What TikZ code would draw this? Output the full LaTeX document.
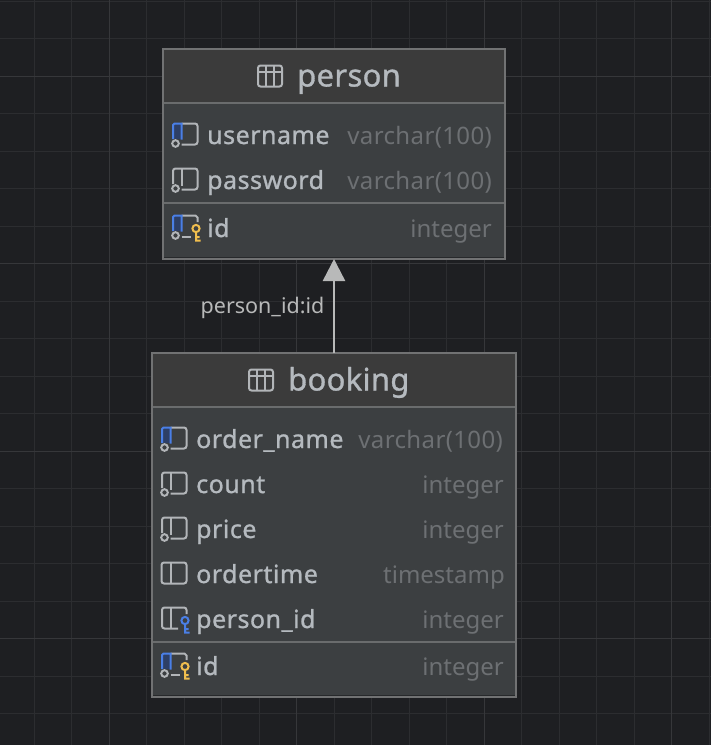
\documentclass[tikz,border=0pt]{standalone}
\usepackage{fontspec}
\usetikzlibrary{arrows.meta}
\setmainfont{Noto Sans}
\newfontfamily\medfont[FakeBold=1,LetterSpace=2]{Noto Sans}
\newfontfamily\titlefont[FakeBold=1,LetterSpace=1]{Noto Sans}
\newfontfamily\typefont{Noto Sans}
\newfontfamily\typewidefont[LetterSpace=1.5]{Noto Sans}
\definecolor{bgc}{HTML}{1E1F22}
\definecolor{gridminor}{HTML}{2C2D30}
\definecolor{gridmajor}{HTML}{36373A}
\definecolor{headc}{HTML}{3B3B3B}
\definecolor{bodyc}{HTML}{3C3F41}
\definecolor{borderc}{HTML}{717273}
\definecolor{sepc}{HTML}{6A6C6D}
\definecolor{namec}{HTML}{B5BABF}
\definecolor{typec}{HTML}{6D7073}
\definecolor{iconc}{HTML}{B2B5B8}
\definecolor{blueic}{HTML}{4A7FE6}
\definecolor{bluedk}{HTML}{2D3F66}
\definecolor{goldic}{HTML}{F0BE4E}
\definecolor{arrowc}{HTML}{B8B9B9}
\tikzset{
  x=1pt,y=-1pt,
  tablebox/.style={draw=borderc,line width=2pt,fill=bodyc,inner sep=0pt,outer sep=0pt,rectangle},
  colname/.style={anchor=base west,yshift=-9pt,inner sep=0pt,text=namec,font=\fontsize{25}{25}\medfont},
  coltype/.style={anchor=base east,yshift=-9pt,inner sep=0pt,text=typec,font=\fontsize{24}{24}\typefont},
  coltypewide/.style={coltype,font=\fontsize{24}{24}\typewidefont},
  tabletitle/.style={anchor=base west,yshift=-10.5pt,inner sep=0pt,text=namec,font=\fontsize{31}{31}\titlefont},
  edgelabel/.style={anchor=base,yshift=-7.5pt,inner sep=0pt,text=arrowc,font=\fontsize{21.5}{21.5}\selectfont},
  sepline/.style={sepc,line width=2pt},
  iconline/.style={iconc,line width=2pt},
  pics/tableicon/.style={code={
    \draw[iconline,rounded corners=2.5pt] (-12,-10.5) rectangle (12,10.5);
    \draw[iconline] (-12,-4.5) -- (12,-4.5) (-4,-10.5) -- (-4,10.5) (4,-10.5) -- (4,10.5);
  }},
  pics/plaincol/.style={code={
    \draw[iconline,rounded corners=2.5pt] (-12.5,-10.5) rectangle (12.5,10.5);
    \draw[iconline] (-3.5,-10.5) -- (-3.5,10.5);
  }},
  pics/nncol/.style={code={
    \draw[iconline,rounded corners=2.5pt] (-12,5) -- (-12,-10.5) -- (12.5,-10.5) -- (12.5,10.5) -- (-3.5,10.5);
    \draw[iconline] (-3.5,-10.5) -- (-3.5,7);
    \draw[iconline] (-9.5,9.5) circle (3.3);
  }},
  pics/bluecol/.style={code={
    \fill[bluedk] (-12,-10.5) rectangle (-3.5,5);
    \draw[iconline,rounded corners=2.5pt] (-3.5,-10.5) -- (12.5,-10.5) -- (12.5,10.5) -- (-3.5,10.5);
    \draw[blueic,line width=2pt] (-12,5) -- (-12,-9) -- (-10.5,-10.5) -- (-3.5,-10.5) -- (-3.5,5.5);
    \draw[iconline] (-9.5,9.5) circle (3.3);
  }},
  pics/pkcol/.style={code={
    \fill[bluedk] (-12,-10.5) rectangle (-3.5,5);
    \draw[iconline] (-3.5,-10.5) -- (10.5,-10.5) -- (12.5,-8.5) -- (12.5,-4);
    \draw[iconline] (-3.5,10.5) -- (6,10.5);
    \draw[blueic,line width=2pt] (-12,5) -- (-12,-9) -- (-10.5,-10.5) -- (-3.5,-10.5) -- (-3.5,5.5);
    \draw[iconline] (-9.5,9.5) circle (3.3);
    \draw[goldic,line width=2pt] (11,2.5) circle (3.6) (11,6) -- (11,14.5) -- (15.5,14.5) (11,11) -- (14.5,11);
  }},
  pics/fkcol/.style={code={
    \draw[iconline,rounded corners=2.5pt] (4,10.5) -- (-12,10.5) -- (-12,-10.5) -- (12.5,-10.5) -- (12.5,-4);
    \draw[iconline] (-3.5,-10.5) -- (-3.5,10.5);
    \draw[blueic,line width=2pt] (11,2.5) circle (3.6) (11,6) -- (11,14.5) -- (15.5,14.5) (11,11) -- (14.5,11);
  }},
}
\begin{document}
\begin{tikzpicture}
\useasboundingbox (0,0) rectangle (711,745);
\fill[bgc] (0,0) rectangle (711,745);
% grid
\foreach \i in {0,...,18} {
  \pgfmathsetmacro\gx{34+37.5*\i}
  \draw[gridminor,line width=1pt] (\gx,0) -- (\gx,745);
}
\foreach \i in {0,...,19} {
  \pgfmathsetmacro\gy{1+37.5*\i}
  \draw[gridminor,line width=1pt] (0,\gy) -- (711,\gy);
}
\foreach \i in {0,...,3} {
  \pgfmathsetmacro\gx{109+187.5*\i}
  \pgfmathsetmacro\gy{76+187.5*\i}
  \draw[gridmajor,line width=1pt] (\gx,0) -- (\gx,745);
  \draw[gridmajor,line width=1pt] (0,\gy) -- (711,\gy);
}
% person table
\node[tablebox,minimum width=342pt,minimum height=210pt] (person) at (334,154) {};
\fill[headc] (164,50) rectangle (504,102);
\draw[sepline] (164,103) -- (504,103);
\draw[sepline] (164,203) -- (504,203);
\draw[bgc!70!bodyc,line width=1pt] (164,257) -- (504,257);
\pic at (270,76) {tableicon};
\node[tabletitle] (ptitle) at (297,76) {person};
\pic at (185,134) {bluecol};
\node[colname] (pusername) at (207,135) {username};
\node[coltypewide] (pusernamet) at (492,135) {varchar(100)};
\pic at (185,179) {nncol};
\node[colname] (ppassword) at (207,180) {password};
\node[coltypewide] (ppasswordt) at (492,180) {varchar(100)};
\pic at (185,226) {pkcol};
\node[colname] (pid) at (207,228) {id};
\node[coltype] (pidt) at (492,228) {integer};
% booking table
\node[tablebox,minimum width=364pt,minimum height=344pt] (booking) at (334,525) {};
\fill[headc] (153,354) rectangle (515,406);
\draw[sepline] (153,407) -- (515,407);
\draw[sepline] (153,642) -- (515,642);
\draw[bgc!70!bodyc,line width=1pt] (153,695) -- (515,695);
\pic at (261,380) {tableicon};
\node[tabletitle] (btitle) at (288,380) {booking};
\pic at (174,438) {bluecol};
\node[colname] (border) at (196,439) {order\_name};
\node[coltypewide] (bordert) at (503,439) {varchar(100)};
\pic at (174,483) {nncol};
\node[colname] (bcount) at (196,484) {count};
\node[coltype] (bcountt) at (504,484) {integer};
\pic at (174,528) {nncol};
\node[colname] (bprice) at (196,529) {price};
\node[coltype] (bpricet) at (504,529) {integer};
\pic at (174,573) {plaincol};
\node[colname] (btime) at (196,574) {ordertime};
\node[coltype] (btimet) at (505,574) {timestamp};
\pic at (174,618) {fkcol};
\node[colname] (bperson) at (196,619) {person\_id};
\node[coltype] (bpersont) at (504,619) {integer};
\pic at (174,664) {pkcol};
\node[colname] (bid) at (196,666) {id};
\node[coltype] (bidt) at (504,666) {integer};
% relation
\draw[arrowc,line width=2.5pt,-{Triangle[length=22pt,width=22pt]}] (booking.north) -- (person.south);
\node[edgelabel] (rellabel) at (262.5,306) {person\_id:id};
\end{tikzpicture}
\end{document}
